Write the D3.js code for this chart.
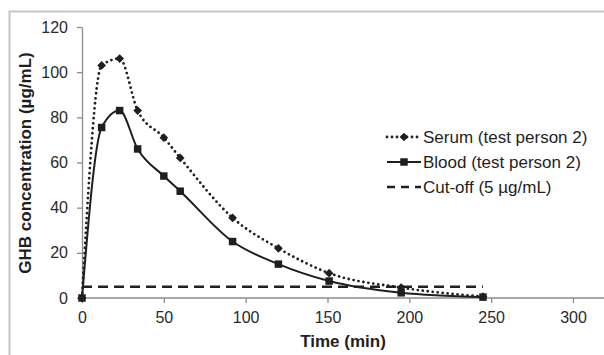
<!DOCTYPE html>
<html>
<head>
<meta charset="utf-8">
<script src="https://cdn.jsdelivr.net/npm/d3@7"></script>
<style>
  body { margin: 0; background: #fff; }
  text { font-family: Arial, "Liberation Sans", sans-serif; }
</style>
</head>
<body>
<div id="chart"></div>
<script>
// time points (min)
const times = [0, 12, 23, 34, 50, 60, 92, 120, 151, 195, 245];
const serum = [0, 103, 106, 83, 71, 62, 35.5, 22, 11, 4.6, 0.6];
const blood = [0, 75.5, 83, 66, 54, 47.3, 25, 15, 7.5, 2.3, 0.4];
const cutoff = 5;
const cutoffRange = [0, 245];
const xTicks = [0, 50, 100, 150, 200, 250, 300];
const yTicks = [0, 20, 40, 60, 80, 100, 120];
const legendLabels = ["Serum (test person 2)", "Blood (test person 2)", "Cut-off (5 µg/mL)"];

const width = 604, height = 355;
const ink = "#1f1f1f";

const svg = d3.select("#chart").append("svg")
    .attr("width", width)
    .attr("height", height);

// outer frame
svg.append("rect")
    .attr("x", 9.5).attr("y", 11.5)
    .attr("width", 700).attr("height", 400)
    .attr("fill", "none")
    .attr("stroke", "#c4c4c4")
    .attr("stroke-width", 2);

const x = d3.scaleLinear().domain([0, 300]).range([82, 573]);
const y = d3.scaleLinear().domain([0, 120]).range([298, 27]);

// y axis
const yAxis = svg.append("g")
    .attr("transform", `translate(${x(0)},0)`)
    .call(d3.axisLeft(y).tickValues(yTicks).tickSize(5).tickPadding(9).tickSizeOuter(0));
yAxis.select(".domain").attr("stroke", "#8c8c8c").attr("stroke-width", 1.3);
yAxis.selectAll(".tick line").attr("stroke", "#8c8c8c").attr("stroke-width", 1.3);
yAxis.selectAll(".tick text").attr("font-size", 16).attr("fill", "#2a2a2a")
    .style("font-family", "Arial, 'Liberation Sans', sans-serif");

// x axis
const xAxis = svg.append("g")
    .attr("transform", `translate(0,${y(0)})`)
    .call(d3.axisBottom(x).tickValues(xTicks).tickSize(5).tickPadding(9).tickSizeOuter(0));
xAxis.select(".domain").attr("d", `M${x(0)},0H${width}`)
    .attr("stroke", "#8c8c8c").attr("stroke-width", 1.3);
xAxis.selectAll(".tick line").attr("stroke", "#8c8c8c").attr("stroke-width", 1.3);
xAxis.selectAll(".tick text").attr("font-size", 16).attr("fill", "#2a2a2a")
    .style("font-family", "Arial, 'Liberation Sans', sans-serif");

// axis titles
svg.append("text")
    .attr("x", 343).attr("y", 347)
    .attr("text-anchor", "middle")
    .attr("font-size", 17).attr("font-weight", "bold").attr("fill", ink)
    .text("Time (min)");

svg.append("text")
    .attr("transform", "translate(31,163) rotate(-90)")
    .attr("text-anchor", "middle")
    .attr("font-size", 17).attr("font-weight", "bold").attr("fill", ink)
    .text("GHB concentration (µg/mL)");

// cut-off line
svg.append("line")
    .attr("x1", x(cutoffRange[0])).attr("x2", x(cutoffRange[1]))
    .attr("y1", y(cutoff)).attr("y2", y(cutoff))
    .attr("stroke", ink).attr("stroke-width", 2.5)
    .attr("stroke-dasharray", "10,6");

const line = d3.line()
    .x(d => x(d[0]))
    .y(d => y(d[1]))
    .curve(d3.curveMonotoneX);

const serumPts = times.map((t, i) => [t, serum[i]]);
const bloodPts = times.map((t, i) => [t, blood[i]]);

svg.append("path")
    .datum(serumPts)
    .attr("d", line)
    .attr("fill", "none")
    .attr("stroke", ink).attr("stroke-width", 2.8)
    .attr("stroke-linecap", "round")
    .attr("stroke-dasharray", "0,5");

svg.append("path")
    .datum(bloodPts)
    .attr("d", line)
    .attr("fill", "none")
    .attr("stroke", ink).attr("stroke-width", 2);

const diamond = d3.symbol().type(d3.symbolSquare).size(38);
svg.append("g").selectAll("path")
    .data(serumPts)
    .enter()
    .append("path")
    .attr("d", diamond)
    .attr("transform", d => `translate(${x(d[0])},${y(d[1])}) rotate(45)`)
    .attr("fill", ink);

const square = d3.symbol().type(d3.symbolSquare).size(56);
svg.append("g").selectAll("path")
    .data(bloodPts)
    .enter()
    .append("path")
    .attr("d", square)
    .attr("transform", d => `translate(${x(d[0])},${y(d[1])})`)
    .attr("fill", ink);

// legend
const legend = svg.append("g").attr("transform", "translate(387,137)");
const rows = legend.selectAll("g")
    .data(legendLabels)
    .enter()
    .append("g")
    .attr("transform", (d, i) => `translate(0,${i * 25})`);

rows.append("line")
    .attr("x1", 0).attr("x2", 34)
    .attr("stroke", ink)
    .attr("stroke-width", (d, i) => i === 0 ? 2.8 : (i === 1 ? 2 : 2.5))
    .attr("stroke-linecap", (d, i) => i === 0 ? "round" : "butt")
    .attr("stroke-dasharray", (d, i) => i === 0 ? "0,5" : (i === 2 ? "8,6" : null));

rows.filter((d, i) => i === 0).append("path")
    .attr("d", diamond)
    .attr("transform", "translate(17,0) rotate(45)")
    .attr("fill", ink);
rows.filter((d, i) => i === 1).append("path")
    .attr("d", square)
    .attr("transform", "translate(17,0)")
    .attr("fill", ink);

rows.append("text")
    .attr("x", 36).attr("dy", "0.35em")
    .attr("font-size", 17).attr("fill", ink)
    .text(d => d);
</script>
</body>
</html>
